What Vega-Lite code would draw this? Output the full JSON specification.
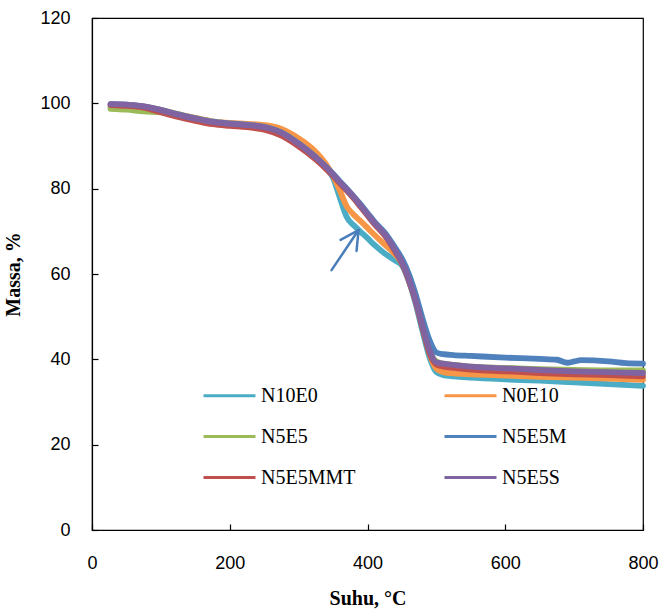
{
  "$schema": "https://vega.github.io/schema/vega-lite/v6.json",
  "width": 551,
  "height": 512,
  "autosize": {"type": "none"},
  "padding": {"left": 92, "top": 18, "right": 18, "bottom": 84},
  "background": "white",
  "config": {
    "view": {"stroke": "#000000", "strokeWidth": 1.2},
    "axis": {
      "grid": false,
      "domainColor": "#000000",
      "domainWidth": 1.2,
      "tickColor": "#000000",
      "tickWidth": 1.2,
      "tickSize": -6,
      "labelFont": "Liberation Sans",
      "labelFontSize": 18,
      "labelColor": "#000000",
      "labelFlush": false,
      "labelOverlap": false,
      "titleFont": "Liberation Serif",
      "titleFontSize": 20,
      "titleFontWeight": "bold",
      "titleColor": "#000000"
    }
  },
  "layer": [
    {
      "data": {"values": [
        {"sample":"N10E0","suhu":27,"massa":99.0},{"sample":"N10E0","suhu":50,"massa":99.0},{"sample":"N10E0","suhu":75,"massa":98.9},{"sample":"N10E0","suhu":100,"massa":98.3},{"sample":"N10E0","suhu":125,"massa":97.4},{"sample":"N10E0","suhu":150,"massa":96.5},{"sample":"N10E0","suhu":175,"massa":95.7},{"sample":"N10E0","suhu":200,"massa":95.3},{"sample":"N10E0","suhu":225,"massa":95.0},{"sample":"N10E0","suhu":250,"massa":94.5},{"sample":"N10E0","suhu":275,"massa":93.3},{"sample":"N10E0","suhu":300,"massa":90.8},{"sample":"N10E0","suhu":325,"massa":87.5},{"sample":"N10E0","suhu":340,"massa":84.8},{"sample":"N10E0","suhu":350,"massa":82.5},{"sample":"N10E0","suhu":360,"massa":77.8},{"sample":"N10E0","suhu":370,"massa":73.3},{"sample":"N10E0","suhu":380,"massa":71.4},{"sample":"N10E0","suhu":390,"massa":69.9},{"sample":"N10E0","suhu":400,"massa":68.4},{"sample":"N10E0","suhu":410,"massa":66.8},{"sample":"N10E0","suhu":425,"massa":64.8},{"sample":"N10E0","suhu":440,"massa":63.2},{"sample":"N10E0","suhu":450,"massa":62.0},{"sample":"N10E0","suhu":460,"massa":58.3},{"sample":"N10E0","suhu":470,"massa":53.0},{"sample":"N10E0","suhu":480,"massa":46.5},{"sample":"N10E0","suhu":490,"massa":40.5},{"sample":"N10E0","suhu":500,"massa":37.0},{"sample":"N10E0","suhu":510,"massa":36.3},{"sample":"N10E0","suhu":525,"massa":36.0},{"sample":"N10E0","suhu":550,"massa":35.7},{"sample":"N10E0","suhu":600,"massa":35.3},{"sample":"N10E0","suhu":650,"massa":35.0},{"sample":"N10E0","suhu":700,"massa":34.6},{"sample":"N10E0","suhu":750,"massa":34.2},{"sample":"N10E0","suhu":800,"massa":33.8},

        {"sample":"N0E10","suhu":27,"massa":99.5},{"sample":"N0E10","suhu":50,"massa":99.5},{"sample":"N0E10","suhu":75,"massa":99.2},{"sample":"N0E10","suhu":100,"massa":98.5},{"sample":"N0E10","suhu":125,"massa":97.5},{"sample":"N0E10","suhu":150,"massa":96.6},{"sample":"N0E10","suhu":175,"massa":95.8},{"sample":"N0E10","suhu":200,"massa":95.4},{"sample":"N0E10","suhu":225,"massa":95.2},{"sample":"N0E10","suhu":250,"massa":94.9},{"sample":"N0E10","suhu":275,"massa":94.0},{"sample":"N0E10","suhu":300,"massa":91.8},{"sample":"N0E10","suhu":325,"massa":88.6},{"sample":"N0E10","suhu":340,"massa":85.7},{"sample":"N0E10","suhu":350,"massa":83.0},{"sample":"N0E10","suhu":360,"massa":79.5},{"sample":"N0E10","suhu":370,"massa":75.8},{"sample":"N0E10","suhu":380,"massa":73.9},{"sample":"N0E10","suhu":390,"massa":72.4},{"sample":"N0E10","suhu":400,"massa":70.8},{"sample":"N0E10","suhu":410,"massa":69.2},{"sample":"N0E10","suhu":425,"massa":66.9},{"sample":"N0E10","suhu":440,"massa":64.6},{"sample":"N0E10","suhu":450,"massa":62.6},{"sample":"N0E10","suhu":460,"massa":59.3},{"sample":"N0E10","suhu":470,"massa":54.8},{"sample":"N0E10","suhu":480,"massa":48.5},{"sample":"N0E10","suhu":490,"massa":41.5},{"sample":"N0E10","suhu":500,"massa":37.8},{"sample":"N0E10","suhu":510,"massa":37.0},{"sample":"N0E10","suhu":525,"massa":36.7},{"sample":"N0E10","suhu":550,"massa":36.5},{"sample":"N0E10","suhu":600,"massa":36.2},{"sample":"N0E10","suhu":650,"massa":35.9},{"sample":"N0E10","suhu":700,"massa":35.7},{"sample":"N0E10","suhu":750,"massa":35.5},{"sample":"N0E10","suhu":800,"massa":35.2},

        {"sample":"N5E5","suhu":27,"massa":98.7},{"sample":"N5E5","suhu":50,"massa":98.5},{"sample":"N5E5","suhu":75,"massa":98.1},{"sample":"N5E5","suhu":100,"massa":97.9},{"sample":"N5E5","suhu":125,"massa":97.2},{"sample":"N5E5","suhu":150,"massa":96.3},{"sample":"N5E5","suhu":175,"massa":95.5},{"sample":"N5E5","suhu":200,"massa":95.1},{"sample":"N5E5","suhu":225,"massa":94.8},{"sample":"N5E5","suhu":250,"massa":94.3},{"sample":"N5E5","suhu":275,"massa":93.0},{"sample":"N5E5","suhu":300,"massa":90.4},{"sample":"N5E5","suhu":325,"massa":87.2},{"sample":"N5E5","suhu":340,"massa":84.9},{"sample":"N5E5","suhu":350,"massa":83.2},{"sample":"N5E5","suhu":360,"massa":81.4},{"sample":"N5E5","suhu":370,"massa":79.7},{"sample":"N5E5","suhu":380,"massa":77.9},{"sample":"N5E5","suhu":390,"massa":75.9},{"sample":"N5E5","suhu":400,"massa":73.9},{"sample":"N5E5","suhu":410,"massa":71.9},{"sample":"N5E5","suhu":425,"massa":69.2},{"sample":"N5E5","suhu":440,"massa":65.5},{"sample":"N5E5","suhu":450,"massa":62.7},{"sample":"N5E5","suhu":460,"massa":58.7},{"sample":"N5E5","suhu":470,"massa":53.7},{"sample":"N5E5","suhu":480,"massa":47.6},{"sample":"N5E5","suhu":490,"massa":42.0},{"sample":"N5E5","suhu":500,"massa":39.5},{"sample":"N5E5","suhu":510,"massa":39.0},{"sample":"N5E5","suhu":525,"massa":38.7},{"sample":"N5E5","suhu":550,"massa":38.3},{"sample":"N5E5","suhu":600,"massa":38.0},{"sample":"N5E5","suhu":650,"massa":37.7},{"sample":"N5E5","suhu":700,"massa":37.5},{"sample":"N5E5","suhu":750,"massa":37.4},{"sample":"N5E5","suhu":800,"massa":37.4},

        {"sample":"N5E5M","suhu":27,"massa":99.8},{"sample":"N5E5M","suhu":50,"massa":99.7},{"sample":"N5E5M","suhu":75,"massa":99.3},{"sample":"N5E5M","suhu":100,"massa":98.5},{"sample":"N5E5M","suhu":125,"massa":97.4},{"sample":"N5E5M","suhu":150,"massa":96.5},{"sample":"N5E5M","suhu":175,"massa":95.7},{"sample":"N5E5M","suhu":200,"massa":95.3},{"sample":"N5E5M","suhu":225,"massa":95.0},{"sample":"N5E5M","suhu":250,"massa":94.5},{"sample":"N5E5M","suhu":275,"massa":93.2},{"sample":"N5E5M","suhu":300,"massa":90.6},{"sample":"N5E5M","suhu":325,"massa":87.4},{"sample":"N5E5M","suhu":340,"massa":85.1},{"sample":"N5E5M","suhu":350,"massa":83.5},{"sample":"N5E5M","suhu":360,"massa":81.7},{"sample":"N5E5M","suhu":370,"massa":80.0},{"sample":"N5E5M","suhu":380,"massa":78.2},{"sample":"N5E5M","suhu":390,"massa":76.3},{"sample":"N5E5M","suhu":400,"massa":74.3},{"sample":"N5E5M","suhu":410,"massa":72.3},{"sample":"N5E5M","suhu":425,"massa":69.7},{"sample":"N5E5M","suhu":440,"massa":66.2},{"sample":"N5E5M","suhu":450,"massa":63.6},{"sample":"N5E5M","suhu":460,"massa":60.0},{"sample":"N5E5M","suhu":470,"massa":55.2},{"sample":"N5E5M","suhu":480,"massa":49.5},{"sample":"N5E5M","suhu":490,"massa":44.5},{"sample":"N5E5M","suhu":500,"massa":41.6},{"sample":"N5E5M","suhu":510,"massa":41.2},{"sample":"N5E5M","suhu":525,"massa":41.0},{"sample":"N5E5M","suhu":550,"massa":40.8},{"sample":"N5E5M","suhu":600,"massa":40.4},{"sample":"N5E5M","suhu":650,"massa":40.1},{"sample":"N5E5M","suhu":675,"massa":39.9},{"sample":"N5E5M","suhu":690,"massa":39.2},{"sample":"N5E5M","suhu":700,"massa":39.5},{"sample":"N5E5M","suhu":710,"massa":39.8},{"sample":"N5E5M","suhu":750,"massa":39.5},{"sample":"N5E5M","suhu":775,"massa":39.1},{"sample":"N5E5M","suhu":800,"massa":39.0},

        {"sample":"N5E5MMT","suhu":27,"massa":99.6},{"sample":"N5E5MMT","suhu":50,"massa":99.4},{"sample":"N5E5MMT","suhu":75,"massa":99.0},{"sample":"N5E5MMT","suhu":100,"massa":97.9},{"sample":"N5E5MMT","suhu":125,"massa":96.8},{"sample":"N5E5MMT","suhu":150,"massa":95.9},{"sample":"N5E5MMT","suhu":175,"massa":95.1},{"sample":"N5E5MMT","suhu":200,"massa":94.7},{"sample":"N5E5MMT","suhu":225,"massa":94.4},{"sample":"N5E5MMT","suhu":250,"massa":93.8},{"sample":"N5E5MMT","suhu":275,"massa":92.4},{"sample":"N5E5MMT","suhu":300,"massa":89.9},{"sample":"N5E5MMT","suhu":325,"massa":86.8},{"sample":"N5E5MMT","suhu":340,"massa":84.6},{"sample":"N5E5MMT","suhu":350,"massa":83.0},{"sample":"N5E5MMT","suhu":360,"massa":81.2},{"sample":"N5E5MMT","suhu":370,"massa":79.5},{"sample":"N5E5MMT","suhu":380,"massa":77.7},{"sample":"N5E5MMT","suhu":390,"massa":75.7},{"sample":"N5E5MMT","suhu":400,"massa":73.7},{"sample":"N5E5MMT","suhu":410,"massa":71.7},{"sample":"N5E5MMT","suhu":425,"massa":69.0},{"sample":"N5E5MMT","suhu":440,"massa":65.3},{"sample":"N5E5MMT","suhu":450,"massa":62.5},{"sample":"N5E5MMT","suhu":460,"massa":58.5},{"sample":"N5E5MMT","suhu":470,"massa":53.5},{"sample":"N5E5MMT","suhu":480,"massa":47.3},{"sample":"N5E5MMT","suhu":490,"massa":41.5},{"sample":"N5E5MMT","suhu":500,"massa":38.8},{"sample":"N5E5MMT","suhu":510,"massa":38.3},{"sample":"N5E5MMT","suhu":525,"massa":38.0},{"sample":"N5E5MMT","suhu":550,"massa":37.6},{"sample":"N5E5MMT","suhu":600,"massa":37.2},{"sample":"N5E5MMT","suhu":650,"massa":36.8},{"sample":"N5E5MMT","suhu":700,"massa":36.5},{"sample":"N5E5MMT","suhu":750,"massa":36.3},{"sample":"N5E5MMT","suhu":800,"massa":36.0},

        {"sample":"N5E5S","suhu":27,"massa":99.8},{"sample":"N5E5S","suhu":50,"massa":99.7},{"sample":"N5E5S","suhu":75,"massa":99.3},{"sample":"N5E5S","suhu":100,"massa":98.4},{"sample":"N5E5S","suhu":125,"massa":97.3},{"sample":"N5E5S","suhu":150,"massa":96.4},{"sample":"N5E5S","suhu":175,"massa":95.6},{"sample":"N5E5S","suhu":200,"massa":95.2},{"sample":"N5E5S","suhu":225,"massa":94.9},{"sample":"N5E5S","suhu":250,"massa":94.4},{"sample":"N5E5S","suhu":275,"massa":93.1},{"sample":"N5E5S","suhu":300,"massa":90.5},{"sample":"N5E5S","suhu":325,"massa":87.3},{"sample":"N5E5S","suhu":340,"massa":85.0},{"sample":"N5E5S","suhu":350,"massa":83.3},{"sample":"N5E5S","suhu":360,"massa":81.5},{"sample":"N5E5S","suhu":370,"massa":79.8},{"sample":"N5E5S","suhu":380,"massa":78.0},{"sample":"N5E5S","suhu":390,"massa":76.0},{"sample":"N5E5S","suhu":400,"massa":74.0},{"sample":"N5E5S","suhu":410,"massa":72.0},{"sample":"N5E5S","suhu":425,"massa":69.3},{"sample":"N5E5S","suhu":440,"massa":65.6},{"sample":"N5E5S","suhu":450,"massa":62.8},{"sample":"N5E5S","suhu":460,"massa":58.8},{"sample":"N5E5S","suhu":470,"massa":53.8},{"sample":"N5E5S","suhu":480,"massa":47.8},{"sample":"N5E5S","suhu":490,"massa":42.2},{"sample":"N5E5S","suhu":500,"massa":39.3},{"sample":"N5E5S","suhu":510,"massa":39.0},{"sample":"N5E5S","suhu":525,"massa":38.7},{"sample":"N5E5S","suhu":550,"massa":38.3},{"sample":"N5E5S","suhu":600,"massa":37.9},{"sample":"N5E5S","suhu":650,"massa":37.5},{"sample":"N5E5S","suhu":700,"massa":37.2},{"sample":"N5E5S","suhu":750,"massa":37.0},{"sample":"N5E5S","suhu":800,"massa":36.8}
      ]},
      "mark": {"type": "line", "strokeWidth": 5.8, "interpolate": "monotone", "strokeCap": "round"},
      "encoding": {
        "x": {
          "field": "suhu", "type": "quantitative",
          "scale": {"domain": [0, 800], "nice": false, "zero": false},
          "axis": {"title": "Suhu, °C", "values": [0, 200, 400, 600, 800], "labelPadding": 30, "titlePadding": 16}
        },
        "y": {
          "field": "massa", "type": "quantitative",
          "scale": {"domain": [0, 120], "nice": false},
          "axis": {"title": "Massa, %", "values": [0, 20, 40, 60, 80, 100, 120], "labelPadding": 28, "titlePadding": 16}
        },
        "color": {
          "field": "sample", "type": "nominal",
          "scale": {
            "domain": ["N10E0", "N0E10", "N5E5", "N5E5M", "N5E5MMT", "N5E5S"],
            "range": ["#4BACC6", "#F79646", "#9BBB59", "#4F81BD", "#C0504D", "#8064A2"]
          },
          "legend": {
            "title": null,
            "orient": "none",
            "direction": "horizontal",
            "legendX": 110,
            "legendY": 350,
            "columns": 2,
            "columnPadding": 82,
            "rowPadding": 3,
            "padding": 0,
            "symbolType": "stroke",
            "symbolSize": 2700,
            "symbolStrokeWidth": 3,
            "labelFont": "Liberation Serif",
            "labelFontSize": 20,
            "labelColor": "#000000",
            "labelOffset": 4
          }
        }
      }
    },
    {
      "data": {"values": [
        {"x": 347.8, "y": 60.9, "xe": 387, "ye": 70.3},
        {"x": 387, "y": 70.3, "xe": 360.9, "ye": 68.0},
        {"x": 387, "y": 70.3, "xe": 384.1, "ye": 65.4}
      ]},
      "mark": {"type": "rule", "color": "#4A7EBB", "strokeWidth": 2.5, "strokeCap": "round"},
      "encoding": {
        "x": {"field": "x", "type": "quantitative"},
        "y": {"field": "y", "type": "quantitative"},
        "x2": {"field": "xe"},
        "y2": {"field": "ye"}
      }
    }
  ]
}
